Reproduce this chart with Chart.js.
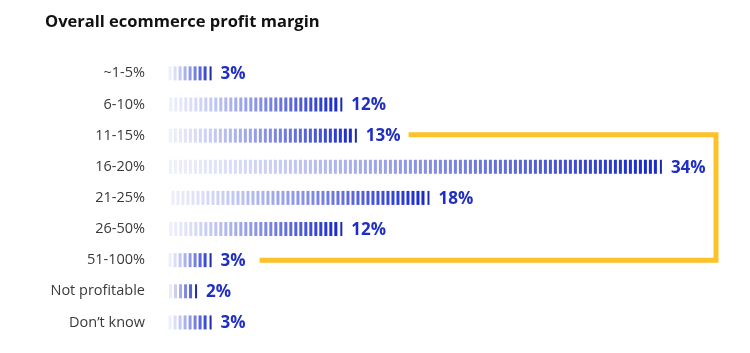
<!DOCTYPE html>
<html lang="en">
<head>
  <meta charset="utf-8">
  <title>Overall ecommerce profit margin</title>
  <style>
    html, body { margin: 0; padding: 0; background: #fff; }
  </style>
</head>
<body>
<canvas id="marginChart" width="750" height="353"></canvas>
<script src="https://cdn.jsdelivr.net/npm/chart.js"></script>
<script>

   // data
   const categories = ['~1-5%', '6-10%', '11-15%', '16-20%', '21-25%', '26-50%', '51-100%', 'Not profitable', "Don\u2019t know"];
   const shares = [3, 12, 13, 34, 18, 12, 3, 2, 3];
   const bracketFrom = '11-15%';
   const bracketTo = '51-100%';

   const FONT = '"Open Sans", "DejaVu Sans", sans-serif';
   const LIGHT = [238, 240, 251];
   const DARK = [26, 44, 205];

   function mix(t){
      var c = [];
      for(var i = 0; i < 3; ++i){
         c.push(Math.round(LIGHT[i] + (DARK[i] - LIGHT[i]) * t));
      }
      return 'rgb(' + c.join(',') + ')';
   }

   // striped gradient bars, value labels and the yellow bracket
   const stripePlugin = {
      id: 'stripes',
      afterDatasetsDraw(chart){
         const ctx = chart.ctx;
         const meta = chart.getDatasetMeta(0);
         const labelEnds = [];
         ctx.save();
         meta.data.forEach(function(bar, i){
            const x0 = bar.base, x1 = bar.x;
            const h = bar.height, top = bar.y - h / 2;
            const len = x1 - x0;
            // stripes laid out from the right end back to the start
            for(var sx = x1 - 8; sx >= x0; sx -= 5){
               const t = Math.pow((sx - x0) / len, 1.15);
               ctx.fillStyle = mix(Math.min(1, t * 1.05));
               ctx.fillRect(sx, top, 3, h);
            }
            ctx.fillStyle = '#1d2ba8';
            ctx.fillRect(x1 - 2, top, 2, h);

            const txt = shares[i] + '%';
            ctx.font = 'bold 17px ' + FONT;
            ctx.fillStyle = '#1f2fc4';
            ctx.textBaseline = 'middle';
            ctx.textAlign = 'left';
            ctx.fillText(txt, x1 + 9, bar.y + 1);
            labelEnds.push(x1 + 9 + ctx.measureText(txt).width);
         });

         const a = categories.indexOf(bracketFrom);
         const b = categories.indexOf(bracketTo);
         const ya = meta.data[a].y - 1, yb = meta.data[b].y;
         const xr = chart.chartArea.right - 4;
         ctx.strokeStyle = '#fdc12a';
         ctx.lineWidth = 5;
         ctx.lineJoin = 'miter';
         ctx.beginPath();
         ctx.moveTo(labelEnds[a] + 8, ya);
         ctx.lineTo(xr, ya);
         ctx.lineTo(xr, yb);
         ctx.lineTo(labelEnds[b] + 14, yb);
         ctx.stroke();
         ctx.restore();
      }
   };

   const chart = new Chart(document.getElementById('marginChart'), {
      type: 'bar',
      data: {
         labels: categories,
         datasets: [{
            data: shares,
            backgroundColor: 'rgba(0,0,0,0)',
            borderWidth: 0,
            barThickness: 14,
         }],
      },
      options: {
         indexAxis: 'y',
         responsive: false,
         animation: false,
         events: [],
         layout: { padding: { left: 45, right: 30, top: 0, bottom: 15 } },
         plugins: {
            legend: { display: false },
            tooltip: { enabled: false },
            title: {
               display: true,
               align: 'start',
               text: 'Overall ecommerce profit margin',
               color: '#111',
               font: { family: FONT, size: 16.5, weight: 'bold' },
               padding: { top: 12, bottom: 26 },
            },
         },
         scales: {
            x: {
               display: false,
               min: 0,
               max: 38,
            },
            y: {
               grid: { display: false },
               border: { display: false },
               ticks: {
                  color: '#3a3a3a',
                  padding: 15,
                  autoSkip: false,
                  font: { family: FONT, size: 14.5 },
               },
               afterFit(scale){
                  scale.width = 123;
                  scale.paddingTop = 0;
                  scale.paddingBottom = 0;
               },
            },
         },
      },
      plugins: [stripePlugin],
   });

</script>
</body>
</html>
